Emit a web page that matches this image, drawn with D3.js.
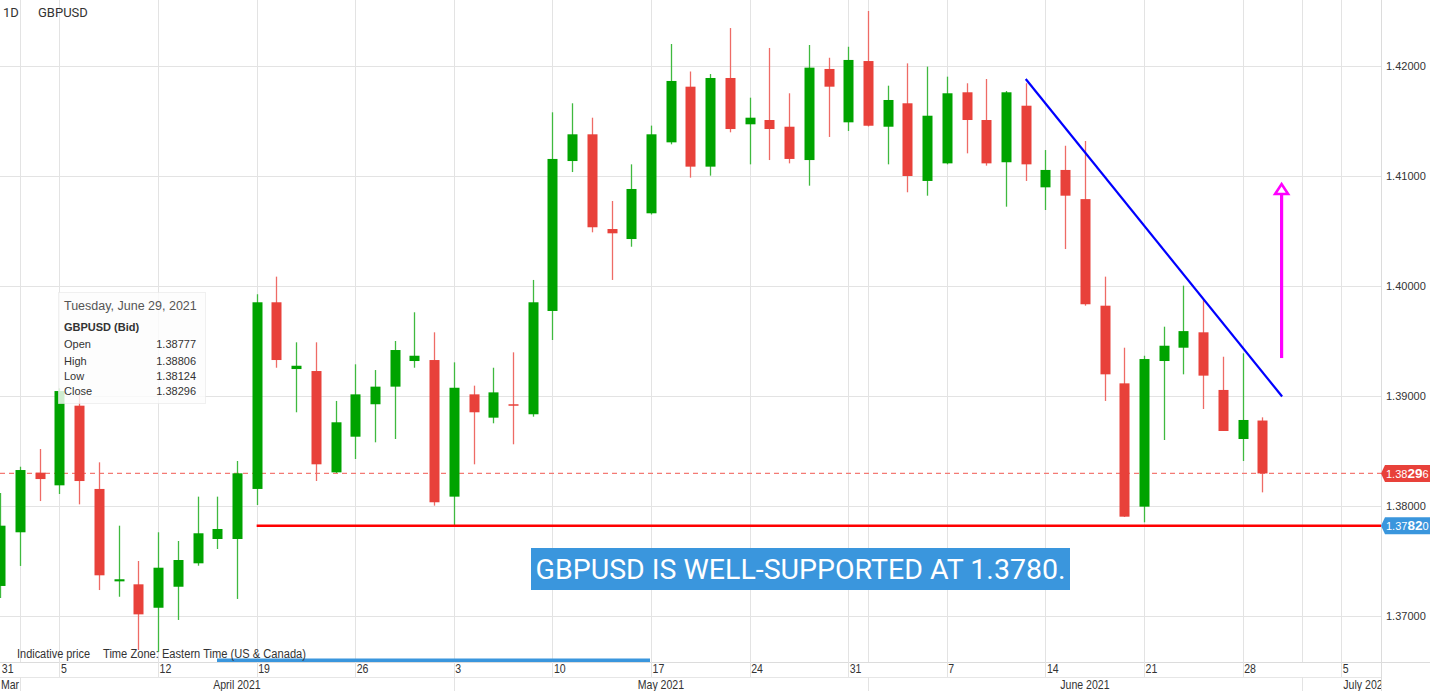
<!DOCTYPE html>
<html><head><meta charset="utf-8">
<script src="https://cdn.jsdelivr.net/npm/d3@7"></script>
<style>
html,body{margin:0;padding:0;background:#fff;overflow:hidden}
svg{display:block}
</style></head><body>
<svg id="chart" width="1430" height="691"></svg>
<script>
// ---------- data ----------
const dates = [
 "2021-03-31","2021-04-01","2021-04-02",
 "2021-04-05","2021-04-06","2021-04-07","2021-04-08","2021-04-09",
 "2021-04-12","2021-04-13","2021-04-14","2021-04-15","2021-04-16",
 "2021-04-19","2021-04-20","2021-04-21","2021-04-22","2021-04-23",
 "2021-04-26","2021-04-27","2021-04-28","2021-04-29","2021-04-30",
 "2021-05-03","2021-05-04","2021-05-05","2021-05-06","2021-05-07",
 "2021-05-10","2021-05-11","2021-05-12","2021-05-13","2021-05-14",
 "2021-05-17","2021-05-18","2021-05-19","2021-05-20","2021-05-21",
 "2021-05-24","2021-05-25","2021-05-26","2021-05-27","2021-05-28",
 "2021-05-31","2021-06-01","2021-06-02","2021-06-03","2021-06-04",
 "2021-06-07","2021-06-08","2021-06-09","2021-06-10","2021-06-11",
 "2021-06-14","2021-06-15","2021-06-16","2021-06-17","2021-06-18",
 "2021-06-21","2021-06-22","2021-06-23","2021-06-24","2021-06-25",
 "2021-06-28","2021-06-29"];
const futureDates = ["2021-06-30","2021-07-01","2021-07-02","2021-07-05","2021-07-06"];

const openP = [
 1.37273,1.37761,1.38303,
 1.38188,1.38912,1.38155,1.37315,1.37288,
 1.37075,1.37266,1.37479,1.37700,1.37700,
 1.38155,1.39852,1.39245,1.39227,1.38306,
 1.38630,1.38925,1.39085,1.39318,1.39327,
 1.38085,1.39015,1.38803,1.38925,1.38834,
 1.39773,1.41136,1.41379,1.40518,1.40427,
 1.40661,1.41306,1.41812,1.41085,1.41891,
 1.41470,1.41509,1.41448,1.41145,1.41973,
 1.41488,1.42045,1.41448,1.41661,1.40955,
 1.41115,1.41761,1.41509,1.41125,1.41639,
 1.40897,1.41055,1.40790,1.39821,1.39115,
 1.37994,1.39318,1.39439,1.39579,1.39055,
 1.38609,1.38777];
const highP = [
 1.38118,1.38357,1.38518,
 1.39070,1.39020,1.38397,1.37821,1.37500,
 1.37761,1.37682,1.38085,1.38085,1.38409,
 1.39925,1.40085,1.39488,1.39488,1.38955,
 1.39288,1.39236,1.39500,1.39761,1.39579,
 1.39306,1.39094,1.39257,1.39397,1.40055,
 1.41579,1.41661,1.41530,1.40773,1.41106,
 1.41458,1.42200,1.41950,1.41927,1.42345,
 1.41712,1.42164,1.41752,1.42191,1.42075,
 1.42175,1.42500,1.41821,1.42024,1.41994,
 1.41903,1.41843,1.41882,1.41773,1.41843,
 1.41236,1.41275,1.41318,1.40085,1.39439,
 1.39366,1.39630,1.40003,1.39873,1.39357,
 1.39388,1.38806];
const lowP = [
 1.37164,1.37455,1.38045,
 1.38109,1.38015,1.37236,1.37175,1.36691,
 1.36673,1.36964,1.37457,1.37609,1.37155,
 1.38009,1.39257,1.38852,1.38227,1.38300,
 1.38427,1.38579,1.38609,1.39257,1.38003,
 1.37827,1.38379,1.38752,1.38561,1.38812,
 1.39509,1.41036,1.40488,1.40055,1.40357,
 1.40650,1.41288,1.40985,1.41003,1.41397,
 1.41106,1.41145,1.41115,1.40912,1.41355,
 1.41409,1.41450,1.41106,1.40852,1.40821,
 1.41106,1.41206,1.41094,1.40721,1.40955,
 1.40691,1.40336,1.39821,1.38955,1.37900,
 1.37852,1.38600,1.39197,1.38882,1.38682,
 1.38409,1.38124];
const closeP = [
 1.37821,1.38327,1.38245,
 1.39045,1.38227,1.37370,1.37334,1.37015,
 1.37439,1.37509,1.37752,1.37791,1.38297,
 1.39852,1.39327,1.39275,1.38379,1.38761,
 1.39015,1.39085,1.39418,1.39366,1.38034,
 1.39075,1.38852,1.39033,1.38912,1.39852,
 1.41155,1.41379,1.40534,1.40479,1.40882,
 1.41379,1.41864,1.41085,1.41891,1.41427,
 1.41530,1.41427,1.41155,1.41985,1.41812,
 1.42055,1.41457,1.41691,1.41000,1.41548,
 1.41752,1.41509,1.41115,1.41761,1.41106,
 1.41055,1.40821,1.39834,1.39197,1.37903,
 1.39336,1.39457,1.39590,1.39185,1.38682,
 1.38782,1.38296];

const priceTicks = [1.37, 1.38, 1.39, 1.40, 1.41, 1.42];
const monthLabels = ["Mar", "April 2021", "May 2021", "June 2021", "July 2021"];
const lastClose = 1.38296;
const supportLevel = 1.3782;
const supportStart = "2021-04-19";
const trendDates = ["2021-06-11", "2021-06-30"];
const trendPrices = [1.41882, 1.38995];
const arrowDate = "2021-06-30";
const arrowPrices = [1.39345, 1.40936];
const symbol = "GBPUSD";
const interval = "1D";
const annotation = "GBPUSD IS WELL-SUPPORTED AT 1.3780.";
const tooltipTitle = "Tuesday, June 29, 2021";
const tooltipRows = ["Open", "High", "Low", "Close"];
const tooltipVals = ["1.38777", "1.38806", "1.38124", "1.38296"];
const footerNotes = ["Indicative price", "Time Zone: Eastern Time (US & Canada)"];

// ---------- layout ----------
const W = 1430, H = 691, plotR = 1381, plotB = 662, rowB = 677;
const GREEN = "#00a300", RED = "#e8413a", BLUE_TAG = "#3a96dd", GRID = "#e3e3e3";
const svg = d3.select("#chart");
const allDates = dates.concat(futureDates);
const step = 19.72;
const x = d3.scalePoint().domain(allDates).range([0.3, 0.3 + (allDates.length - 1) * step]);
const y = d3.scaleLinear().domain([1.37, 1.42]).range([616, 66]);
const parse = s => new Date(s + "T00:00:00Z");

const candles = dates.map((d, i) => ({d, o: openP[i], h: highP[i], l: lowP[i], c: closeP[i]}));

const defs = svg.append("defs");
defs.append("clipPath").attr("id", "plotClip").append("rect").attr("x", 0).attr("y", 0).attr("width", plotR).attr("height", plotB);
defs.append("clipPath").attr("id", "axisClip").append("rect").attr("x", 0).attr("y", plotB).attr("width", plotR).attr("height", H - plotB);

// vertical gridlines: Mondays + month starts
const mondays = allDates.filter(d => parse(d).getUTCDay() === 1);
const monthStarts = allDates.filter((d, i) => i > 0 && parse(d).getUTCMonth() !== parse(allDates[i - 1]).getUTCMonth());
const vLines = Array.from(new Set(mondays.concat(monthStarts)));
const g = svg.append("g").attr("clip-path", "url(#plotClip)");
g.selectAll("line.vg").data(vLines).join("line")
  .attr("x1", d => Math.round(x(d)) + 0.5).attr("x2", d => Math.round(x(d)) + 0.5)
  .attr("y1", 0).attr("y2", plotB).attr("stroke", GRID).attr("stroke-width", 1);
g.selectAll("line.hg").data(priceTicks).join("line")
  .attr("x1", 0).attr("x2", plotR).attr("y1", d => Math.round(y(d)) + 0.5).attr("y2", d => Math.round(y(d)) + 0.5)
  .attr("stroke", GRID).attr("stroke-width", 1);

// last close dashed line
g.append("line").attr("x1", 0).attr("x2", plotR)
  .attr("y1", y(lastClose)).attr("y2", y(lastClose))
  .attr("stroke", "#f47a74").attr("stroke-width", 1.2).attr("stroke-dasharray", "5,4");

// candles
const cg = g.append("g");
cg.selectAll("line.wick").data(candles).join("line")
  .attr("x1", d => Math.round(x(d.d)) + 0.5).attr("x2", d => Math.round(x(d.d)) + 0.5)
  .attr("y1", d => y(d.h)).attr("y2", d => y(d.l))
  .attr("stroke", d => d.c >= d.o ? "#3fb93f" : "#ee6b66").attr("stroke-width", 1.3);
cg.selectAll("rect.body").data(candles).join("rect")
  .attr("x", d => Math.round(x(d.d)) - 4.5)
  .attr("width", 10)
  .attr("y", d => y(Math.max(d.o, d.c)))
  .attr("height", d => Math.max(1.5, Math.abs(y(d.o) - y(d.c))))
  .attr("fill", d => d.c >= d.o ? GREEN : RED);

// support line
g.append("line").attr("x1", x(supportStart)).attr("x2", plotR)
  .attr("y1", y(supportLevel)).attr("y2", y(supportLevel))
  .attr("stroke", "#ff0000").attr("stroke-width", 2.6);

// trend line
g.append("line").attr("x1", x(trendDates[0])).attr("y1", y(trendPrices[0]))
  .attr("x2", x(trendDates[1])).attr("y2", y(trendPrices[1]))
  .attr("stroke", "#0000ff").attr("stroke-width", 2.2);

// magenta arrow
const ax = x(arrowDate) - 0.5;
const tipY = y(arrowPrices[1]);
g.append("line").attr("x1", ax).attr("x2", ax).attr("y1", y(arrowPrices[0])).attr("y2", tipY + 11)
  .attr("stroke", "#ff00ff").attr("stroke-width", 3.2);
g.append("path").attr("d", `M${ax - 6.5},${tipY + 11} L${ax},${tipY + 1} L${ax + 6.5},${tipY + 11} Z`)
  .attr("fill", "none").attr("stroke", "#ff00ff").attr("stroke-width", 2.6).attr("stroke-linejoin", "miter");

// annotation box
const ann = svg.append("g");
ann.append("rect").attr("x", 531).attr("y", 548).attr("width", 539).attr("height", 42).attr("fill", BLUE_TAG);
const annText = ann.append("text").attr("x", 800.5).attr("y", 578.5).attr("text-anchor", "middle")
  .attr("fill", "#fff").attr("font-family", "Roboto, 'Open Sans', sans-serif").attr("font-size", 25).text(annotation);
{
  const len = annText.node().getComputedTextLength();
  annText.attr("font-size", 25 * 530 / len);
}

// axis frame lines
svg.append("line").attr("x1", 0).attr("x2", W).attr("y1", plotB + 0.5).attr("y2", plotB + 0.5).attr("stroke", "#dcdcdc");
svg.append("line").attr("x1", 0).attr("x2", plotR).attr("y1", rowB + 0.5).attr("y2", rowB + 0.5).attr("stroke", "#e6e6e6");
svg.append("line").attr("x1", plotR + 0.5).attr("x2", plotR + 0.5).attr("y1", 0).attr("y2", H).attr("stroke", "#dcdcdc");

// bottom axis
const narrow = "'Liberation Sans Narrow', 'Arial Narrow', 'Liberation Sans', Arial, sans-serif";
const axg = svg.append("g").attr("clip-path", "url(#axisClip)");
const dayTicks = [dates[0]].concat(mondays);
axg.selectAll("line.dsep").data(mondays).join("line")
  .attr("x1", d => Math.round(x(d)) + 0.5).attr("x2", d => Math.round(x(d)) + 0.5)
  .attr("y1", plotB).attr("y2", rowB).attr("stroke", "#e3e3e3");
axg.selectAll("text.day").data(dayTicks).join("text")
  .attr("x", d => x(d) + 1.5).attr("y", 673.5)
  .attr("font-family", narrow).attr("font-size", 12).attr("fill", "#333")
  .attr("transform", d => `translate(${(x(d) + 1.5) * 0.12},0) scale(0.88,1)`)
  .text(d => parse(d).getUTCDate());
axg.selectAll("line.msep").data(monthStarts).join("line")
  .attr("x1", d => Math.round(x(d)) + 0.5).attr("x2", d => Math.round(x(d)) + 0.5)
  .attr("y1", rowB).attr("y2", H).attr("stroke", "#e3e3e3");
const mBounds = [0].concat(monthStarts.map(d => x(d))).concat([W]);
axg.selectAll("text.month").data(monthLabels).join("text")
  .attr("x", (d, i) => (mBounds[i] + mBounds[i + 1]) / 2).attr("y", 689)
  .attr("text-anchor", "middle")
  .attr("font-family", narrow).attr("font-size", 12).attr("fill", "#333")
  .attr("transform", (d, i) => `translate(${(mBounds[i] + mBounds[i + 1]) / 2 * 0.12},0) scale(0.88,1)`)
  .text(d => d);

// scroll bar
svg.append("rect").attr("x", 217).attr("y", 658.5).attr("width", 433).attr("height", 3.5).attr("fill", "#3a96dd");

// footer notes
const footX = [17, 103], footW = [73, 203];
svg.selectAll("text.foot").data(footerNotes).join("text")
  .attr("x", (d, i) => footX[i]).attr("y", 658)
  .attr("font-family", narrow).attr("font-size", 12).attr("fill", "#333")
  .attr("textLength", (d, i) => footW[i]).attr("lengthAdjust", "spacingAndGlyphs")
  .text(d => d);

// right price axis
svg.selectAll("text.pt").data(priceTicks).join("text")
  .attr("x", 1386).attr("y", d => y(d) + 4)
  .attr("font-family", "'Liberation Sans', Arial, sans-serif").attr("font-size", 11).attr("fill", "#333")
  .text(d => d.toFixed(5));

function tag(price, color) {
  const yc = y(price);
  const s = price.toFixed(5);
  const tg = svg.append("g");
  tg.append("path").attr("d", `M${plotR},${yc} L${plotR + 4},${yc - 8.5} L${W},${yc - 8.5} L${W},${yc + 8.5} L${plotR + 4},${yc + 8.5} Z`).attr("fill", color);
  const t = tg.append("text").attr("x", plotR + 5).attr("y", yc + 4.5)
    .attr("font-family", "'Liberation Sans', Arial, sans-serif").attr("fill", "#fff");
  t.append("tspan").attr("font-size", 11).text(s.slice(0, 4));
  t.append("tspan").attr("font-size", 13.5).attr("font-weight", "bold").text(s.slice(4, 6));
  t.append("tspan").attr("font-size", 11).text(s.slice(6));
}
tag(lastClose, RED);
tag(supportLevel, BLUE_TAG);

// header
svg.append("text").attr("x", 3).attr("y", 17).attr("font-family", "Roboto, sans-serif").attr("font-size", 13).attr("fill", "#333").text(interval);
svg.append("text").attr("x", 38).attr("y", 17).attr("font-family", "Roboto, sans-serif").attr("font-size", 13).attr("fill", "#333").text(symbol);

// tooltip
const tt = svg.append("g");
tt.append("rect").attr("x", 58.5).attr("y", 292.5).attr("width", 147).attr("height", 111)
  .attr("fill", "rgba(252,252,252,0.82)").attr("stroke", "rgba(230,230,230,0.6)");
tt.append("text").attr("x", 64).attr("y", 309.5).attr("font-family", "'Liberation Sans', Arial, sans-serif")
  .attr("font-size", 12.5).attr("fill", "#555").text(tooltipTitle);
tt.append("text").attr("x", 64).attr("y", 331).attr("font-family", "'Liberation Sans', Arial, sans-serif")
  .attr("font-size", 11).attr("font-weight", "bold").attr("fill", "#333").text(symbol + " (Bid)");
const rowYs = [348, 365, 380, 395];
tt.selectAll("text.rl").data(tooltipRows).join("text")
  .attr("x", 64).attr("y", (d, i) => rowYs[i]).attr("font-family", "'Liberation Sans', Arial, sans-serif")
  .attr("font-size", 11).attr("fill", "#333").text(d => d);
tt.selectAll("text.rv").data(tooltipVals).join("text")
  .attr("x", 196).attr("y", (d, i) => rowYs[i]).attr("text-anchor", "end").attr("font-family", "'Liberation Sans', Arial, sans-serif")
  .attr("font-size", 11).attr("fill", "#333").text(d => d);
</script>
</body></html>
